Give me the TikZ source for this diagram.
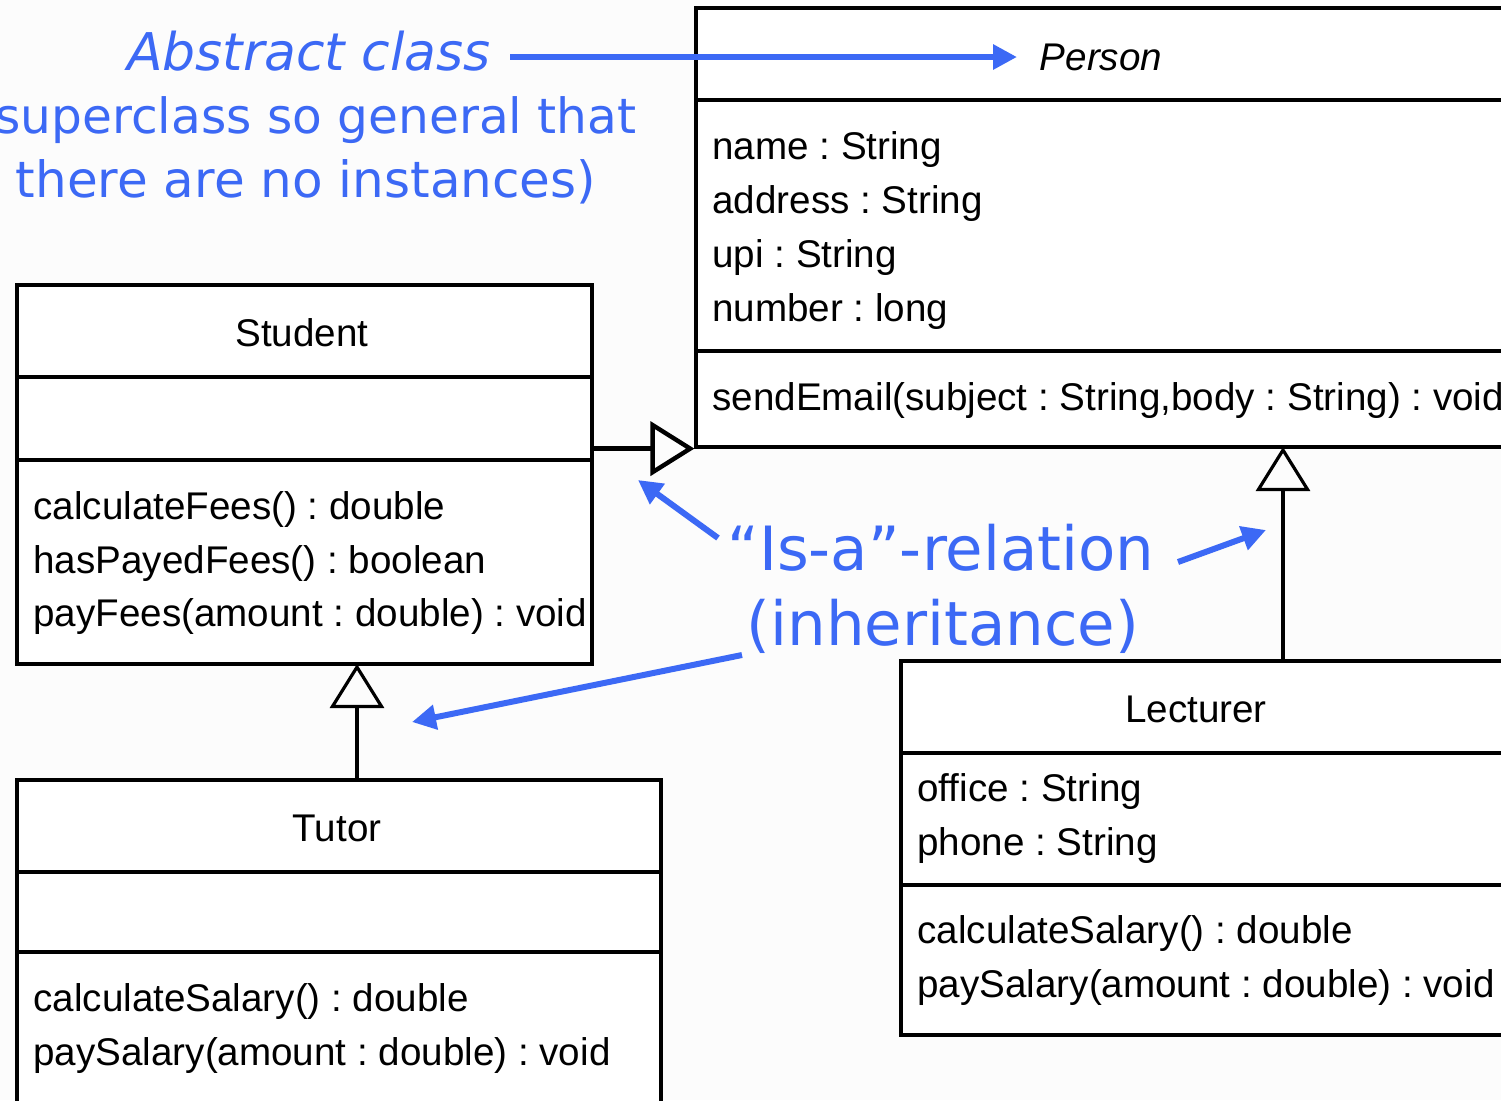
\documentclass[tikz,border=0pt]{standalone}
\usepackage{fontspec}
\setmainfont{Liberation Sans}
\newfontfamily\handfont{DejaVu Sans}
\usetikzlibrary{arrows.meta,fit}
\frenchspacing
\definecolor{notecol}{RGB}{60,105,245}
\definecolor{paper}{RGB}{252,252,252}
\tikzset{
  classbox/.style={draw=black, line width=1.6pt, inner sep=0pt, fill=white},
  divider/.style={draw=black, line width=1.6pt},
  member/.style={anchor=base west, inner sep=0pt, font=\fontsize{19.3}{23}\selectfont},
  title/.style={anchor=base, inner sep=0pt, font=\fontsize{19.3}{23}\selectfont},
  inherit/.style={draw=black, line width=1.6pt,
    -{Triangle[open, length=22pt, width=27pt]}},
  note/.style={inner sep=0pt, text=notecol, font=\handfont\fontsize{25}{30}\selectfont},
  bignote/.style={inner sep=0pt, text=notecol, font=\handfont\fontsize{30.5}{36}\selectfont},
  pointer/.style={draw=notecol, line width=3pt,
    -{Triangle[length=12pt, width=12pt]}},
}
\begin{document}
\begin{tikzpicture}[x=0.5pt, y=-0.5pt]
\useasboundingbox (0,0) rectangle (1501,1100);
\clip (0,0) rectangle (1501,1100);
\fill[paper] (0,0) rectangle (1501,1100);

% --- Person (abstract superclass) ---
\coordinate (p-nw) at (696,8);
\coordinate (p-se) at (1512,447);
\node[classbox, fit=(p-nw)(p-se)] (person) {};
\draw[divider] (696,100) -- (1512,100);
\draw[divider] (696,351) -- (1512,351);
\node[title, font=\fontsize{19.3}{23}\selectfont\itshape] (person-name) at (1101,70) {Person};
\node[member] (p-a1) at (712,159) {name : String};
\node[member] (p-a2) at (712,213) {address : String};
\node[member] (p-a3) at (712,267) {upi : String};
\node[member] (p-a4) at (712,321) {number : long};
\node[member] (p-m1) at (712,410) {sendEmail(subject : String,body : String) : void};

% --- Student ---
\coordinate (s-nw) at (17,285);
\coordinate (s-se) at (592,664);
\node[classbox, fit=(s-nw)(s-se)] (student) {};
\draw[divider] (17,377) -- (592,377);
\draw[divider] (17,460) -- (592,460);
\node[title] (student-name) at (302,346) {Student};
\node[member] (s-m1) at (33,519) {calculateFees() : double};
\node[member] (s-m2) at (33,573) {hasPayedFees() : boolean};
\node[member] (s-m3) at (33,626) {payFees(amount : double) : void};

% --- Tutor ---
\coordinate (t-nw) at (17,780);
\coordinate (t-se) at (661,1120);
\node[classbox, fit=(t-nw)(t-se)] (tutor) {};
\draw[divider] (17,872) -- (661,872);
\draw[divider] (17,952) -- (661,952);
\node[title] (tutor-name) at (337,841) {Tutor};
\node[member] (t-m1) at (33,1011) {calculateSalary() : double};
\node[member] (t-m2) at (33,1065) {paySalary(amount : double) : void};

% --- Lecturer ---
\coordinate (l-nw) at (901,661);
\coordinate (l-se) at (1512,1035);
\node[classbox, fit=(l-nw)(l-se)] (lecturer) {};
\draw[divider] (901,753) -- (1512,753);
\draw[divider] (901,885) -- (1512,885);
\node[title] (lecturer-name) at (1196,722) {Lecturer};
\node[member] (l-a1) at (917,801) {office : String};
\node[member] (l-a2) at (917,855) {phone : String};
\node[member] (l-m1) at (917,943) {calculateSalary() : double};
\node[member] (l-m2) at (917,997) {paySalary(amount : double) : void};

% --- generalisation links ---
\coordinate (lec-up) at (1283,661);
\coordinate (per-lec) at (1283,447);
\coordinate (tut-up) at (357,780);
\coordinate (stu-tut) at (357,664);
\draw[inherit, line width=2.2pt] (student.east |- person.south west) -- (person.south west);
\draw[inherit] (lec-up) -- (per-lec);
\draw[inherit] (tut-up) -- (stu-tut);

% --- notes ---
\node[note, anchor=base, font=\handfont\fontsize{26}{30}\selectfont\itshape] (abs1) at (309,70) {Abstract class};
\node[note, anchor=base east, font=\handfont\fontsize{24.3}{30}\selectfont] (abs2) at (637,133) {(superclass so general that};
\node[note, anchor=base] (abs3) at (306,197) {there are no instances)};
\node[bignote, anchor=base] (isa1) at (941,570) {“Is-a”-relation};
\node[bignote, anchor=base] (isa2) at (943,645) {(inheritance)};

\coordinate (abs-from) at (510,57);
\coordinate (abs-to) at (1017,57);
\coordinate (isa-from1) at (718,538);
\coordinate (isa-to1) at (638,480);
\coordinate (isa-from2) at (1178,562);
\coordinate (isa-to2) at (1266,530);
\coordinate (isa-from3) at (742,655);
\coordinate (isa-to3) at (412,722);
\draw[pointer] (abs-from) -- (abs-to);
\draw[pointer] (isa-from1) -- (isa-to1);
\draw[pointer] (isa-from2) -- (isa-to2);
\draw[pointer] (isa-from3) -- (isa-to3);
\end{tikzpicture}
\end{document}
